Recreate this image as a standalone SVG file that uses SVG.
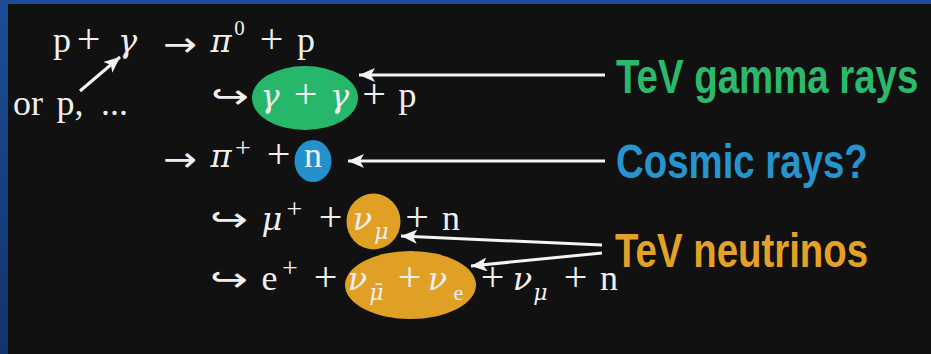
<svg xmlns="http://www.w3.org/2000/svg" width="931" height="354" viewBox="0 0 931 354">
  <defs>
    <linearGradient id="side" x1="0" y1="0" x2="0" y2="1">
      <stop offset="0" stop-color="#1d4d96"/>
      <stop offset="1" stop-color="#13336b"/>
    </linearGradient>
    <marker id="ah" markerUnits="userSpaceOnUse" markerWidth="17" markerHeight="14" refX="16" refY="7" orient="auto" viewBox="0 0 17 14">
      <path d="M0,0 L16,7 L0,14 L4,7 Z" fill="#f4f4f4"/>
    </marker>
    <style>
      .m { font-family: "Liberation Serif", "DejaVu Serif", serif; font-size: 36px; fill: #efefef; text-anchor: middle; }
      .i { font-family: "DejaVu Serif", "Liberation Serif", serif; font-style: italic; font-size: 32px; }
      .pl { font-size: 42px; }
      .sp { font-size: 28px; }
      .sb { font-size: 22px; }
      .ar { font-family: "DejaVu Sans", "Liberation Sans", sans-serif; font-size: 34px; fill: #efefef; }
      .lab { font-family: "Liberation Sans", Arial, sans-serif; font-weight: bold; font-size: 48px; }
      .con { stroke: #f4f4f4; stroke-width: 3; fill: none; marker-end: url(#ah); }
    </style>
  </defs>

  <rect x="0" y="0" width="931" height="354" fill="#111111"/>
  <rect x="0" y="0" width="931" height="4" fill="#1e4f9b"/>
  <rect x="0" y="0" width="8" height="354" fill="url(#side)"/>

  <g id="highlights">
    <ellipse id="gamma-blob" cx="305" cy="98" rx="53" ry="32" fill="#27b76b"/>
    <ellipse id="n-blob" cx="313" cy="161" rx="18.5" ry="21" fill="#2490cc"/>
    <ellipse id="numu-blob" cx="373.5" cy="221.5" rx="27" ry="28" fill="#e0a026"/>
    <ellipse id="nue-blob" cx="410.5" cy="285" rx="65.5" ry="34" fill="#e0a026"/>
  </g>

  <g id="row1">
    <text class="m" x="62" y="52">p</text>
    <text class="m pl" x="88.5" y="53">+</text>
    <text class="m i" x="127.5" y="52">γ</text>
    <text class="ar" x="163" y="56" textLength="34" lengthAdjust="spacingAndGlyphs">→</text>
    <text class="m i" x="221" y="52">π</text>
    <text class="m" x="239.5" y="35" style="font-size:21px">0</text>
    <text class="m pl" x="271.5" y="53">+</text>
    <text class="m" x="306" y="52">p</text>
  </g>

  <g id="row-or">
    <text class="m" x="28" y="115">or</text>
    <text class="m" x="70" y="115">p,</text>
    <text class="m" x="114.5" y="115">...</text>
  </g>

  <g id="row2">
    <text class="ar" x="211" y="108" textLength="38" lengthAdjust="spacingAndGlyphs">↪</text>
    <text class="m i" x="270" y="107">γ</text>
    <text class="m pl" x="305.5" y="108">+</text>
    <text class="m i" x="339.5" y="107">γ</text>
    <text class="m pl" x="374" y="108">+</text>
    <text class="m" x="407.5" y="107">p</text>
  </g>

  <g id="row3">
    <text class="ar" x="163" y="171" textLength="34" lengthAdjust="spacingAndGlyphs">→</text>
    <text class="m i" x="221" y="167">π</text>
    <text class="m sp" x="243" y="157">+</text>
    <text class="m pl" x="278.5" y="168">+</text>
    <text class="m" x="313" y="167">n</text>
  </g>

  <g id="row4">
    <text class="ar" x="210" y="231" textLength="38" lengthAdjust="spacingAndGlyphs">↪</text>
    <text class="m i" x="272" y="230">μ</text>
    <text class="m sp" x="294.5" y="218">+</text>
    <text class="m pl" x="330.5" y="231">+</text>
    <text class="m i" x="362.5" y="230">ν</text>
    <text class="m i sb" x="381.5" y="239">μ</text>
    <text class="m pl" x="417" y="231">+</text>
    <text class="m" x="451" y="230">n</text>
  </g>

  <g id="row5">
    <text class="ar" x="210" y="291" textLength="38" lengthAdjust="spacingAndGlyphs">↪</text>
    <text class="m" x="269.5" y="290">e</text>
    <text class="m sp" x="290" y="277">+</text>
    <text class="m pl" x="325.5" y="291">+</text>
    <text class="m i" x="357.5" y="290">ν</text>
    <text class="m i sb" x="376.5" y="300">μ̄</text>
    <text class="m pl" x="409.5" y="291">+</text>
    <text class="m i" x="437.5" y="290">ν</text>
    <text class="m sb" x="458.5" y="300">e</text>
    <text class="m pl" x="492.5" y="291">+</text>
    <text class="m i" x="522.5" y="290">ν</text>
    <text class="m i sb" x="540.5" y="300">μ</text>
    <text class="m pl" x="575.5" y="291">+</text>
    <text class="m" x="609" y="290">n</text>
  </g>

  <g id="label-gamma" transform="translate(616,93) scale(0.8,1)">
    <text class="lab" x="0" y="0" fill="#2bb96c">TeV gamma rays</text>
  </g>
  <g id="label-cosmic" transform="translate(616,178) scale(0.8,1)">
    <text class="lab" x="0" y="0" fill="#2694cf">Cosmic rays?</text>
  </g>
  <g id="label-neutrinos" transform="translate(615,267) scale(0.8,1)">
    <text class="lab" x="0" y="0" fill="#e3a227">TeV neutrinos</text>
  </g>

  <g id="connectors">
    <line class="con" x1="80" y1="91" x2="120" y2="57"/>
    <line class="con" x1="605" y1="75" x2="359" y2="75"/>
    <line class="con" x1="605" y1="161" x2="348" y2="161"/>
    <line class="con" x1="602" y1="245" x2="401" y2="236"/>
    <line class="con" x1="602" y1="253" x2="471" y2="266"/>
  </g>
</svg>
